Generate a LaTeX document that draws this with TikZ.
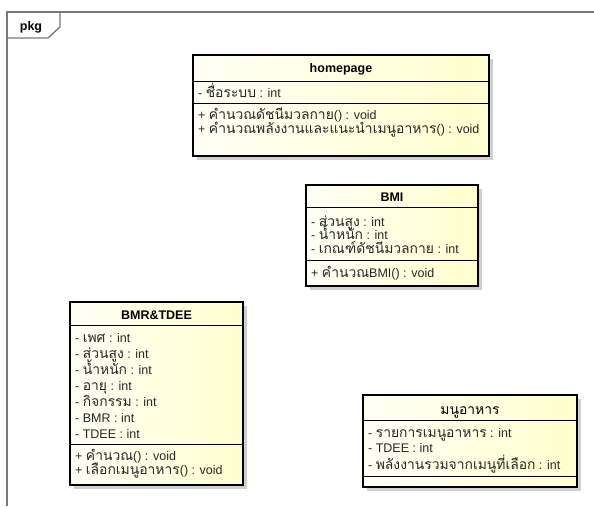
\documentclass[tikz,border=0pt]{standalone}
\usepackage{fontspec}
\setmainfont{Liberation Sans}
\newfontfamily\thaifont[Script=Thai,Scale=1.11]{Loma}
\usetikzlibrary{positioning}
\definecolor{frameGray}{RGB}{120,120,120}
\definecolor{shadowGray}{RGB}{208,208,208}
\definecolor{umlPale}{RGB}{255,255,246}
\definecolor{umlYellow}{RGB}{255,255,206}
\definecolor{umlText}{RGB}{40,40,40}
\newcommand{\thx}[1]{{\thaifont #1}}

\begin{document}
\begin{tikzpicture}[x=1pt, y=-1pt,
		pkg_frame/.style  = {draw=frameGray, line width=1.3pt},
		uml_shadow/.style = {fill=shadowGray, draw=none},
		uml_box/.style    = {draw=black, line width=1.8pt, left color=umlPale, right color=umlYellow},
		uml_sep/.style    = {draw=black, line width=0.9pt},
		uml_title/.style  = {font=\fontsize{12.5}{15}\selectfont\bfseries, inner sep=0pt, anchor=base},
		uml_line/.style   = {font=\fontsize{12.5}{15}\selectfont, text=umlText, inner sep=0pt,
			text height=8.5pt, text depth=2.5pt, anchor=base west}
		]
		\useasboundingbox (0,0) rectangle (594,506);
		
		% package frame
		\draw[pkg_frame] (594,12) -- (7,12) -- (7,506);
		\draw[pkg_frame] (7,38) -- (48,38) -- (60,27) -- (60,12);
		\node[uml_title] (pkg) at (31,30) {pkg};
		
		% homepage
		\fill[uml_shadow] (197,59) rectangle (493,160);
		\draw[uml_box] (193,55) rectangle (489,156);
		\node[uml_title] (hp_name) at (341,72) {homepage};
		\draw[uml_sep] (193,81) -- (489,81);
		\node[uml_line] (hp_a1) at (198,97) {- \thx{ชื่อระบบ} : int};
		\draw[uml_sep] (193,103) -- (489,103);
		\node[uml_line] (hp_m1) at (198,119) {+ \thx{คำนวณดัชนีมวลกาย}() : void};
		\node[uml_line] (hp_m2) at (198,133) {+ \thx{คำนวณพลังงานและแนะนำเมนูอาหาร}() : void};
		
		% BMI
		\fill[uml_shadow] (310,189) rectangle (482,290);
		\draw[uml_box] (306,185) rectangle (478,286);
		\node[uml_title] (bmi_name) at (392,201) {BMI};
		\draw[uml_sep] (306,207) -- (478,207);
		\node[uml_line] (bmi_a1) at (311,226) {- \thx{ส่วนสูง} : int};
		\node[uml_line] (bmi_a2) at (311,239) {- \thx{น้ำหนัก} : int};
		\node[uml_line] (bmi_a3) at (311,253) {- \thx{เกณฑ์ดัชนีมวลกาย} : int};
		\draw[uml_sep] (306,260) -- (478,260);
		\node[uml_line] (bmi_m1) at (311,277) {+ \thx{คำนวณ}BMI() : void};
		
		% BMR&TDEE
		\fill[uml_shadow] (74,306) rectangle (247,489);
		\draw[uml_box] (70,302) rectangle (243,485);
		\node[uml_title] (bmr_name) at (156.5,319) {BMR\&TDEE};
		\draw[uml_sep] (70,325) -- (243,325);
		\node[uml_line] (bmr_a1) at (75,342) {- \thx{เพศ} : int};
		\node[uml_line] (bmr_a2) at (75,358) {- \thx{ส่วนสูง} : int};
		\node[uml_line] (bmr_a3) at (75,374) {- \thx{น้ำหนัก} : int};
		\node[uml_line] (bmr_a4) at (75,390) {- \thx{อายุ} : int};
		\node[uml_line] (bmr_a5) at (75,406) {- \thx{กิจกรรม} : int};
		\node[uml_line] (bmr_a6) at (75,422) {- BMR : int};
		\node[uml_line] (bmr_a7) at (75,438) {- TDEE : int};
		\draw[uml_sep] (70,444) -- (243,444);
		\node[uml_line] (bmr_m1) at (75,460) {+ \thx{คำนวณ}() : void};
		\node[uml_line] (bmr_m2) at (75,474) {+ \thx{เลือกเมนูอาหาร}() : void};
		
		% menu
		\fill[uml_shadow] (367,399) rectangle (581,491);
		\draw[uml_box] (363,395) rectangle (577,487);
		\node[uml_title, font=\fontsize{12.5}{15}\selectfont] (menu_name) at (470,414) {\thx{มนูอาหาร}};
		\draw[uml_sep] (363,420) -- (577,420);
		\node[uml_line] (menu_a1) at (368,437) {- \thx{รายการเมนูอาหาร} : int};
		\node[uml_line] (menu_a2) at (368,452) {- TDEE : int};
		\node[uml_line] (menu_a3) at (368,469) {- \thx{พลังงานรวมจากเมนูที่เลือก} : int};
		\draw[uml_sep] (363,476) -- (577,476);
	\end{tikzpicture}
\end{document}
